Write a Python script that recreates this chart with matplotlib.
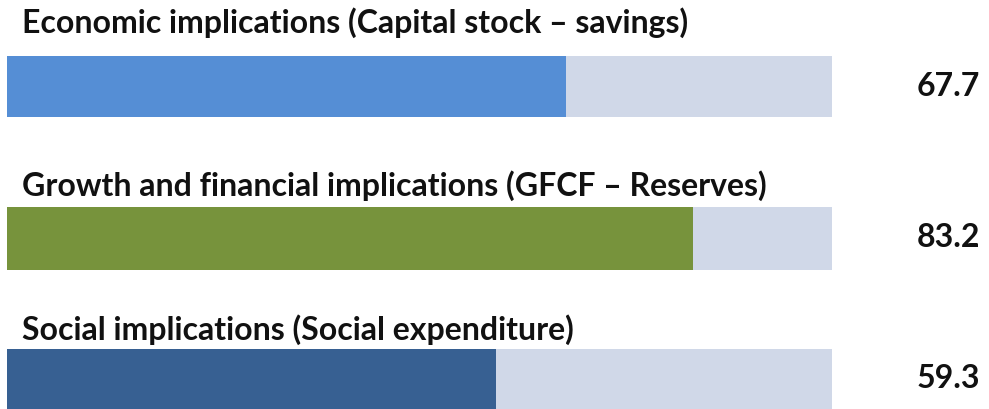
import matplotlib
matplotlib.use("Agg")
import matplotlib.pyplot as plt

# ---- data ----
categories = [
    "Economic implications (Capital stock \u2013 savings)",
    "Growth and financial implications (GFCF \u2013 Reserves)",
    "Social implications (Social expenditure)",
]
values = [67.7, 83.2, 59.3]
max_value = 100
labels = ["67.7", "83.2", "59.3"]
colors = ["#558ED5", "#77933C", "#376092"]
track_color = "#D0D8E8"

W, H = 989, 409
fig = plt.figure(figsize=(W / 100, H / 100), dpi=100)

# axes whose x-range 0..100 maps to pixel 7..832
px0, px1 = 7, 832
upp = max_value / (px1 - px0)          # units per pixel
ax = fig.add_axes([0, 0, 1, 1])
ax.set_xlim(-px0 * upp, (W - px0) * upp)
ax.set_ylim(H, 0)                      # y in pixel rows (layout)
ax.axis("off")

bar_top = [56, 207, 349]
bar_h = [61, 63, 62]
title_base = [33, 196, 340]
label_base = [96, 247, 388]

font = "Lato"
fs = 23.0

for i, (cat, v, lab, c) in enumerate(zip(categories, values, labels, colors)):
    yc = bar_top[i] + bar_h[i] / 2
    ax.barh(yc, max_value, height=bar_h[i], left=0, color=track_color, edgecolor="none")
    ax.barh(yc, v, height=bar_h[i], left=0, color=c, edgecolor="none")
    ax.text(15 * upp, title_base[i], cat, ha="left", va="baseline",
            fontsize=fs, fontweight="bold", family=font, color="#111111")
    ax.text((980 - px0) * upp, label_base[i], lab, ha="right", va="baseline",
            fontsize=fs, fontweight="bold", family=font, color="#111111")

fig.savefig("out.png", dpi=100)
